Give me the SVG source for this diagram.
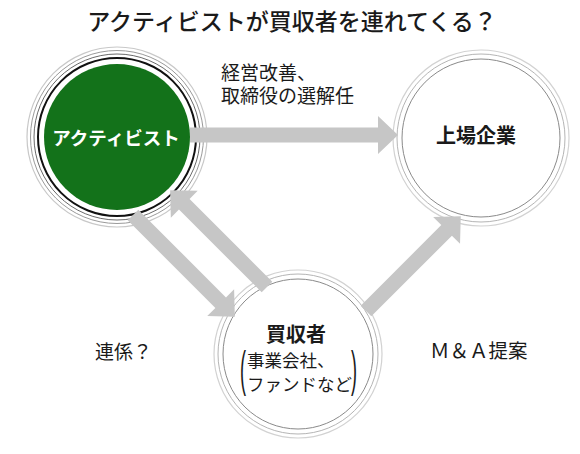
<svg xmlns="http://www.w3.org/2000/svg" width="580" height="454" viewBox="0 0 580 454">
<style>
.t{font-family:"Noto Sans CJK JP","Noto Sans",sans-serif;fill:#1a1a1a}
.lbl{font-size:19px}
.arrow{fill:#c6c6c6}
.ring1{fill:none;stroke:#8a8a8a;stroke-width:1}
.ring2{fill:none;stroke:#b5b5b5;stroke-width:1}
.ring3{fill:none;stroke:#d2d2d2;stroke-width:1.2}
.par{font-family:"Liberation Sans",sans-serif;font-size:18px;fill:#1a1a1a}
</style>
<rect width="580" height="454" fill="#ffffff"/>
<text class="t" x="292" y="30" font-size="23" font-weight="500" text-anchor="middle">アクティビストが買収者を連れてくる？</text>

<g id="activist">
<circle cx="117" cy="137" r="90" fill="none" stroke="#c8c8c8" stroke-width="1.2"/>
<circle cx="117" cy="137" r="86.5" fill="none" stroke="#9a9a9a" stroke-width="1"/>
<circle cx="117" cy="137" r="83" fill="none" stroke="#6a6a6a" stroke-width="1"/>
<circle cx="117" cy="137" r="79" fill="none" stroke="#111" stroke-width="2"/>
<circle cx="117" cy="137" r="73" fill="#13721a"/>
<text class="t" x="116" y="145" font-size="18.5" font-weight="700" text-anchor="middle" style="fill:#ffffff">アクティビスト</text>
</g>

<g id="listed">
<circle cx="481" cy="138" r="88" class="ring3"/>
<circle cx="481" cy="138" r="84" class="ring2"/>
<circle cx="481" cy="138" r="79" class="ring1" fill="#fff"/>
<text class="t" x="476" y="143" font-size="20" font-weight="700" text-anchor="middle">上場企業</text>
</g>

<g id="acquirer">
<circle cx="298" cy="354" r="84" class="ring3"/>
<circle cx="298" cy="354" r="80" class="ring2"/>
<circle cx="298" cy="354" r="75" class="ring1" fill="#fff"/>
<text class="t" x="296" y="342" font-size="20" font-weight="700" text-anchor="middle">買収者</text>
<text class="t" x="247" y="367" font-size="17.5">事業会社、</text>
<text class="t" x="247" y="391" font-size="17.5">ファンドなど</text>
<text class="par" transform="translate(240,386) scale(1,2.8)">(</text>
<text class="par" transform="translate(351,386) scale(1,2.8)">)</text>
</g>

<g id="connectors">
<polygon class="arrow" transform="translate(190,135) rotate(0)" points="0,-7.5 188,-7.5 188,-19 208,0 188,19 188,7.5 0,7.5"/>
<polygon class="arrow" transform="translate(133,215) rotate(45)" points="0,-7.5 124,-7.5 124,-19 144,0 124,19 124,7.5 0,7.5"/>
<polygon class="arrow" transform="translate(267,287) rotate(-135)" points="0,-7.5 117,-7.5 117,-19 137,0 117,19 117,7.5 0,7.5"/>
<polygon class="arrow" transform="translate(366,311) rotate(-45)" points="0,-7.5 114,-7.5 114,-19 134,0 114,19 114,7.5 0,7.5"/>
</g>

<g id="labels">
<text class="t lbl"><tspan x="221" y="80">経営改善、</tspan><tspan x="221" y="103">取締役の選解任</tspan></text>
<text class="t" x="95" y="359" font-size="19">連係？</text>
<text class="t" x="430" y="358" font-size="19.5">Ｍ＆Ａ提案</text>
</g>
</svg>
